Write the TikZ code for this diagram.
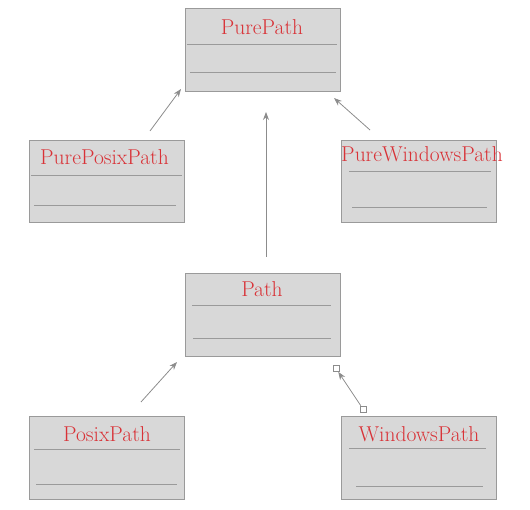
\documentclass[tikz,border=0pt]{standalone}
\usetikzlibrary{arrows.meta}
\definecolor{boxfill}{HTML}{D8D8D8}
\definecolor{boxline}{HTML}{9A9A9A}
\definecolor{titlered}{HTML}{D93237}
\definecolor{arrowgray}{HTML}{8C8C8C}
\begin{document}
\begin{tikzpicture}[x=1pt,y=-1pt,
  classbox/.style={draw=boxline,fill=boxfill,line width=0.9pt,minimum width=155pt,minimum height=83pt,inner sep=0pt},
  classtitle/.style={text=titlered,font=\fontsize{21.5}{25}\selectfont,anchor=base,inner sep=0pt},
  sepline/.style={draw=boxline,line width=0.9pt},
  inherit/.style={draw=arrowgray,line width=0.8pt,-{Stealth[length=8pt,width=6pt]}},
  endsq/.style={draw=arrowgray,fill=white,line width=0.7pt,minimum size=6pt,inner sep=0pt}]
\useasboundingbox (0,0) rectangle (530,510);
% boxes
\node[classbox] (pure) at (262.5,49.5) {};
\node[classbox,minimum height=82pt] (pposix) at (106.5,181) {};
\node[classbox,minimum height=82pt] (pwin) at (418.5,181) {};
\node[classbox] (path) at (262.5,314.5) {};
\node[classbox] (posix) at (106.5,457.5) {};
\node[classbox] (win) at (418.5,457.5) {};
% titles
\node[classtitle] (tpure) at (262,35) {PurePath};
\node[classtitle] (tpposix) at (104.5,165) {PurePosixPath};
\node[classtitle] (tpwin) at (422,162) {PureWindowsPath};
\node[classtitle] (tpath) at (262,297) {Path};
\node[classtitle] (tposix) at (107,441) {PosixPath};
\node[classtitle] (twin) at (419,441) {WindowsPath};
% compartment lines
\draw[sepline] (187,44) -- (337,44);
\draw[sepline] (190,72) -- (336,72);
\draw[sepline] (31,175) -- (182,175);
\draw[sepline] (34,205) -- (176,205);
\draw[sepline] (349,171) -- (491,171);
\draw[sepline] (352,207) -- (487,207);
\draw[sepline] (192,305) -- (331,305);
\draw[sepline] (193,338) -- (331,338);
\draw[sepline] (34,449) -- (180,449);
\draw[sepline] (36,484) -- (177,484);
\draw[sepline] (349,448) -- (486,448);
\draw[sepline] (356,486) -- (483,486);
% connector end points
\coordinate (a1s) at (150,131);
\coordinate (a1e) at (181,89);
\coordinate (a2s) at (370,130);
\coordinate (a2e) at (334,98);
\coordinate (a3s) at (266,257);
\coordinate (a3e) at (266,112);
\coordinate (a4s) at (141,402);
\coordinate (a4e) at (177,362);
\node[endsq] (sqb) at (363,409) {};
\node[endsq] (sqt) at (336,368.5) {};
% connectors
\draw[inherit] (a1s) -- (a1e);
\draw[inherit] (a2s) -- (a2e);
\draw[inherit] (a3s) -- (a3e);
\draw[inherit] (a4s) -- (a4e);
\draw[inherit] (sqb) -- (sqt);
\end{tikzpicture}
\end{document}
